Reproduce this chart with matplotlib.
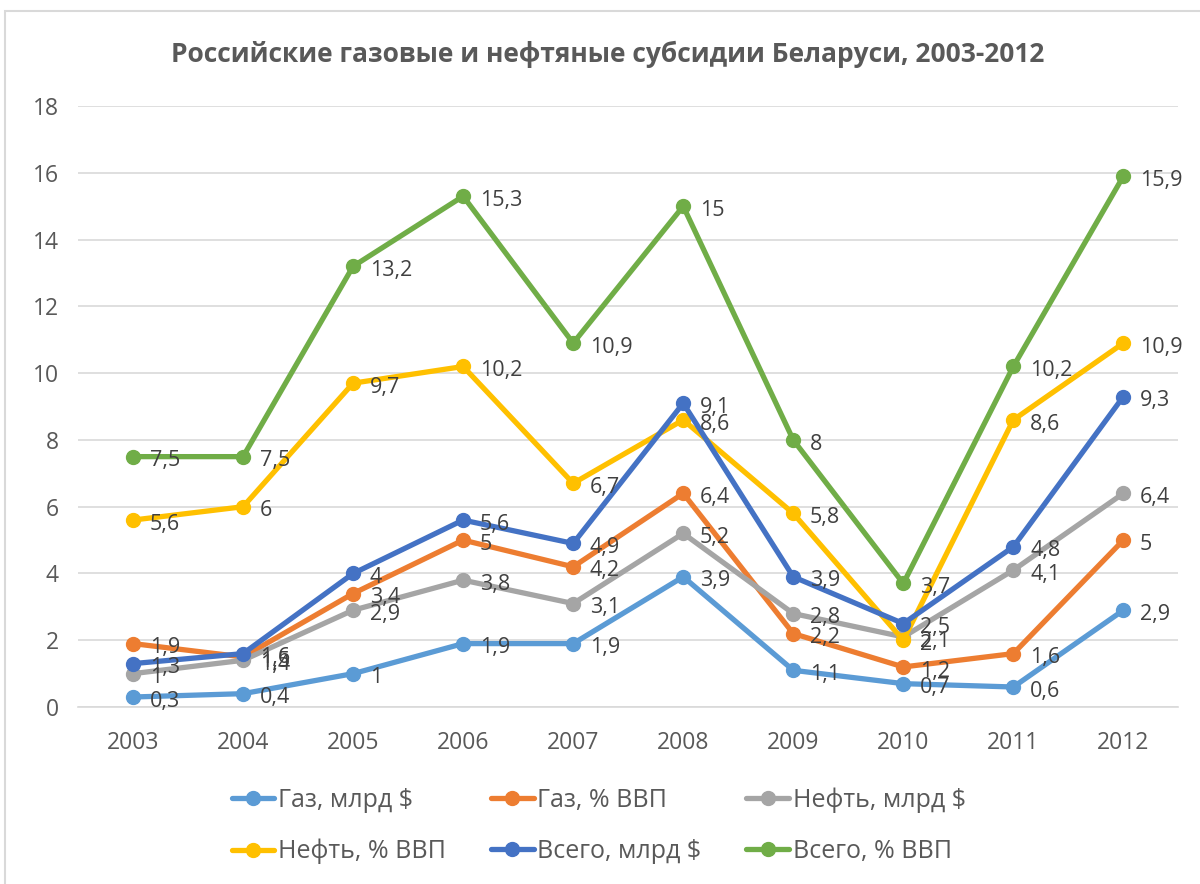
import matplotlib
matplotlib.use("Agg")
import matplotlib.pyplot as plt
from matplotlib.patches import Rectangle

plt.rcParams['font.family'] = ['Open Sans', 'DejaVu Sans']

years = ['2003', '2004', '2005', '2006', '2007', '2008', '2009', '2010', '2011', '2012']
gas_bn = [0.3, 0.4, 1, 1.9, 1.9, 3.9, 1.1, 0.7, 0.6, 2.9]
gas_gdp = [1.9, 1.5, 3.4, 5, 4.2, 6.4, 2.2, 1.2, 1.6, 5]
oil_bn = [1, 1.4, 2.9, 3.8, 3.1, 5.2, 2.8, 2.1, 4.1, 6.4]
oil_gdp = [5.6, 6, 9.7, 10.2, 6.7, 8.6, 5.8, 2, 8.6, 10.9]
total_bn = [1.3, 1.6, 4, 5.6, 4.9, 9.1, 3.9, 2.5, 4.8, 9.3]
total_gdp = [7.5, 7.5, 13.2, 15.3, 10.9, 15, 8, 3.7, 10.2, 15.9]

series_names = ['Газ, млрд $', 'Газ, % ВВП', 'Нефть, млрд $',
                'Нефть, % ВВП', 'Всего, млрд $', 'Всего, % ВВП']
series = [gas_bn, gas_gdp, oil_bn, oil_gdp, total_bn, total_gdp]
colors = ['#5B9BD5', '#ED7D31', '#A5A5A5', '#FFC000', '#4472C4', '#70AD47']

fig = plt.figure(figsize=(12, 8.84), dpi=100)
ax = fig.add_axes([0.065, 0.2002, 0.917, 0.6798])

x = list(range(len(years)))
handles = []
for vals, name, c in zip(series, series_names, colors):
    h, = ax.plot(x, vals, color=c, lw=3.8, marker='o', markersize=10,
                 label=name, solid_capstyle='round', zorder=3)
    handles.append(h)

for vals in series:
    for xi, v in zip(x, vals):
        lab = ('%g' % v).replace('.', ',')
        ax.annotate(lab, (xi, v), xytext=(12, -3), textcoords='offset points',
                    ha='left', va='center', fontsize=15.5, color='#404040', zorder=5)

ax.set_xlim(-0.5, 9.5)
ax.set_ylim(0, 18)
ax.set_yticks(range(0, 19, 2))
ax.set_xticks(x)
ax.set_xticklabels(years)
ax.tick_params(axis='both', length=0, labelsize=16.5, labelcolor='#595959')
ax.tick_params(axis='y', pad=14)
ax.tick_params(axis='x', pad=17)
ax.grid(axis='y', color='#D9D9D9', lw=1.2)
ax.set_axisbelow(True)
for s in ['top', 'right', 'left']:
    ax.spines[s].set_visible(False)
ax.spines['bottom'].set_color('#D9D9D9')
ax.spines['bottom'].set_linewidth(1.2)

fig.text(0.506, 0.939, 'Российские газовые и нефтяные субсидии Беларуси, 2003-2012',
         ha='center', va='center', fontsize=19, fontweight='bold', color='#595959')

order = [0, 3, 1, 4, 2, 5]
leg = fig.legend([handles[i] for i in order], [series_names[i] for i in order],
                 ncol=3, loc='center', bbox_to_anchor=(0.499, 0.066),
                 frameon=False, fontsize=18, labelspacing=1.05, columnspacing=1.8,
                 handlelength=1.7, handletextpad=0.15, labelcolor='#595959')

fig.patches.append(Rectangle((0.004, -0.01), 1.1, 0.997, transform=fig.transFigure,
                             fill=False, edgecolor='#D9D9D9', lw=1.5))

fig.savefig('out.png', dpi=100)
